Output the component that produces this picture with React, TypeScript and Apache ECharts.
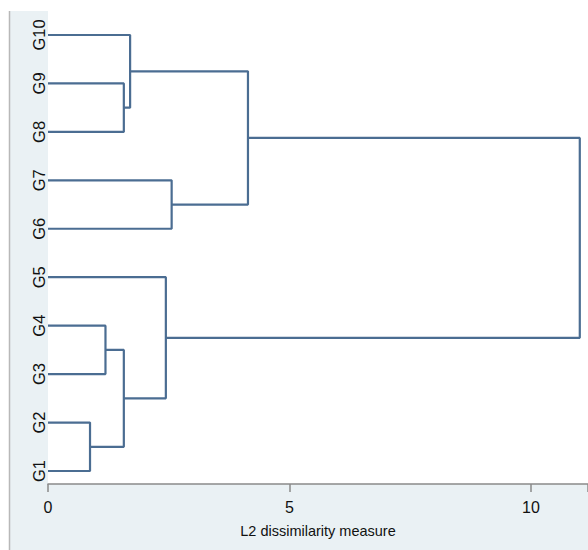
import React, { useEffect, useRef } from "react";
import * as echarts from "echarts";

// Leaves (bottom to top)
const leaves = ["G1", "G2", "G3", "G4", "G5", "G6", "G7", "G8", "G9", "G10"];
// Merge steps: children refer to a leaf name or "c<k>" for earlier cluster k
const mergeLeft = ["G1", "G3", "c0", "G5", "G8", "G10", "G6", "c5", "c3"];
const mergeRight = ["G2", "G4", "c1", "c2", "G9", "c4", "G7", "c6", "c7"];
const mergeHeight = [0.87, 1.19, 1.57, 2.44, 1.57, 1.70, 2.56, 4.14, 11.01];
const xTicks = [0, 5, 10];

const LINE = "#4b6d92";
const BG = "#eaf1f4";

export default function App() {
  const ref = useRef<HTMLDivElement>(null);
  useEffect(() => {
    if (!ref.current) return;
    const chart = echarts.init(ref.current, undefined, { renderer: "svg" });

    const nodes: Record<string, { x: number; y: number }> = {};
    leaves.forEach((l, i) => (nodes[l] = { x: 0, y: i + 1 }));
    const series: any[] = [];
    mergeLeft.forEach((a, k) => {
      const b = mergeRight[k];
      const h = mergeHeight[k];
      const A = nodes[a];
      const B = nodes[b];
      nodes["c" + k] = { x: h, y: (A.y + B.y) / 2 };
      series.push({
        type: "line",
        data: [
          [A.x, A.y],
          [h, A.y],
          [h, B.y],
          [B.x, B.y],
        ],
        symbol: "none",
        lineStyle: { color: LINE, width: 2.2 },
        silent: true,
      });
    });

    chart.setOption({
      animation: false,
      backgroundColor: BG,
      grid: {
        left: 48,
        top: 11,
        right: 0,
        bottom: 66,
        show: true,
        backgroundColor: "#ffffff",
        borderWidth: 0,
      },
      xAxis: {
        type: "value",
        min: 0,
        max: 11.18,
        interval: 5,
        splitLine: { show: false },
        axisLine: { show: true, lineStyle: { color: "#8a8a8a", width: 1.5 } },
        axisTick: { show: true, length: 8, lineStyle: { color: "#8a8a8a", width: 1.5 } },
        axisLabel: {
          customValues: xTicks,
          color: "#111",
          fontFamily: "'Liberation Sans', Arial, sans-serif",
          fontSize: 16,
          margin: 15,
        },
        name: "L2 dissimilarity measure",
        nameLocation: "middle",
        nameGap: 39,
        nameTextStyle: {
          color: "#111",
          fontFamily: "'Liberation Sans', Arial, sans-serif",
          fontSize: 14.5,
        },
      },
      yAxis: {
        type: "value",
        min: 0.732,
        max: 10.495,
        splitLine: { show: false },
        axisLine: { show: false },
        axisTick: { show: false },
        axisLabel: {
          customValues: leaves.map((_, i) => i + 1),
          formatter: (v: number) => leaves[Math.round(v) - 1] ?? "",
          rotate: 90,
          color: "#111",
          fontFamily: "'Liberation Sans', Arial, sans-serif",
          fontSize: 16.5,
          margin: 1,
        },
      },
      graphic: [
        { type: "rect", shape: { x: 0, y: 0, width: 588, height: 11 }, style: { fill: "#fff" }, silent: true },
        { type: "rect", shape: { x: 0, y: 0, width: 9, height: 550 }, style: { fill: "#fff" }, silent: true },
        {
          type: "line",
          shape: { x1: 9.5, y1: 11, x2: 9.5, y2: 550 },
          style: { stroke: "#b8b8b8", lineWidth: 1.5 },
          silent: true,
        },
      ],
      series,
    });
    return () => chart.dispose();
  }, []);
  return (
    <div
      ref={ref}
      style={{ position: "absolute", left: 0, top: 0, width: 588, height: 550 }}
    />
  );
}
